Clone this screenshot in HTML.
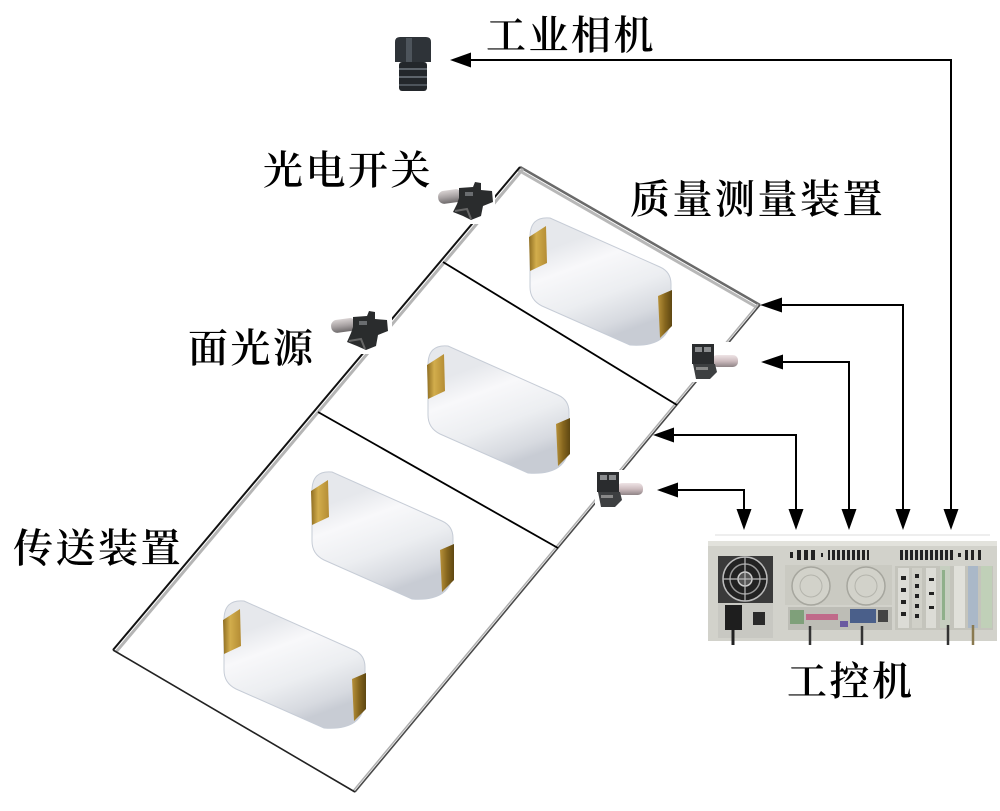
<!DOCTYPE html>
<html><head><meta charset="utf-8">
<style>
html,body{margin:0;padding:0;background:#fff;}
svg{display:block;}
text{font-family:"Liberation Serif","Noto Serif CJK SC",serif;font-size:40px;font-weight:600;fill:#000;letter-spacing:2.5px;}
</style></head><body>
<svg width="1000" height="811" viewBox="0 0 1000 811" xmlns="http://www.w3.org/2000/svg">
<defs>
  <linearGradient id="body" gradientUnits="userSpaceOnUse" x1="-18" y1="-45" x2="18" y2="52">
    <stop offset="0" stop-color="#e6e8ec"/>
    <stop offset="0.25" stop-color="#f8f8fa"/>
    <stop offset="0.6" stop-color="#eceef1"/>
    <stop offset="0.88" stop-color="#d7dae0"/>
    <stop offset="1" stop-color="#c8ccd4"/>
  </linearGradient>
  <linearGradient id="goldL" x1="0" y1="0" x2="1" y2="0">
    <stop offset="0" stop-color="#8f6e22"/>
    <stop offset="0.4" stop-color="#d2ad4c"/>
    <stop offset="1" stop-color="#b48c34"/>
  </linearGradient>
  <linearGradient id="goldR" x1="0" y1="0" x2="1" y2="0">
    <stop offset="0" stop-color="#b8923a"/>
    <stop offset="0.5" stop-color="#86661e"/>
    <stop offset="1" stop-color="#5e4712"/>
  </linearGradient>
  <linearGradient id="cylL" x1="0" y1="0" x2="0" y2="1">
    <stop offset="0" stop-color="#d8d2d2"/>
    <stop offset="0.5" stop-color="#a9a3a4"/>
    <stop offset="1" stop-color="#6e6a6b"/>
  </linearGradient>
  <linearGradient id="cylR" x1="0" y1="0" x2="0" y2="1">
    <stop offset="0" stop-color="#efe4e6"/>
    <stop offset="0.5" stop-color="#cdbcbf"/>
    <stop offset="1" stop-color="#8f8486"/>
  </linearGradient>
</defs>

<!-- conveyor -->
<polygon points="520,167 760,305 355,792 113,650" fill="#fff"/>
<line x1="518" y1="170" x2="758" y2="308" stroke="#b8b8b8" stroke-width="3"/>
<line x1="520" y1="167" x2="760" y2="305" stroke="#6a6a6a" stroke-width="2.5"/>
<line x1="523" y1="169" x2="116" y2="652" stroke="#b5b5b5" stroke-width="3"/>
<line x1="520" y1="167" x2="113" y2="650" stroke="#111" stroke-width="2"/>
<line x1="758" y1="304" x2="353" y2="791" stroke="#b0b0b0" stroke-width="1.5"/>
<line x1="760" y1="305" x2="355" y2="792" stroke="#4a4a4a" stroke-width="1.6"/>
<line x1="113" y1="650" x2="355" y2="792" stroke="#222" stroke-width="1.6"/>
<line x1="443" y1="262" x2="677" y2="405" stroke="#000" stroke-width="1.8"/>
<line x1="318" y1="412" x2="558" y2="548" stroke="#000" stroke-width="1.8"/>

<!-- spools -->
<g transform="translate(600,282)">
  <path d="M-70,-45 Q-70,-66 -50,-64 L60,-15 Q71,-10 71,2 L71,33 Q71,66 30,63 L-58,24 Q-70,18 -70,5 Z" fill="url(#body)" stroke="#c6ccd6" stroke-width="1"/>
  <polygon points="-71,-45 -54,-56 -53,-19 -70,-11" fill="url(#goldL)"/>
  <polygon points="58,14 72,8 72,44 60,56" fill="url(#goldR)"/>
</g>
<g transform="translate(498,410)">
  <path d="M-70,-45 Q-70,-66 -50,-64 L60,-15 Q71,-10 71,2 L71,33 Q71,66 30,63 L-58,24 Q-70,18 -70,5 Z" fill="url(#body)" stroke="#c6ccd6" stroke-width="1"/>
  <polygon points="-71,-45 -54,-56 -53,-19 -70,-11" fill="url(#goldL)"/>
  <polygon points="58,14 72,8 72,44 60,56" fill="url(#goldR)"/>
</g>
<g transform="translate(382,536)">
  <path d="M-70,-45 Q-70,-66 -50,-64 L60,-15 Q71,-10 71,2 L71,33 Q71,66 30,63 L-58,24 Q-70,18 -70,5 Z" fill="url(#body)" stroke="#c6ccd6" stroke-width="1"/>
  <polygon points="-71,-45 -54,-56 -53,-19 -70,-11" fill="url(#goldL)"/>
  <polygon points="58,14 72,8 72,44 60,56" fill="url(#goldR)"/>
</g>
<g transform="translate(294,665)">
  <path d="M-70,-45 Q-70,-66 -50,-64 L60,-15 Q71,-10 71,2 L71,33 Q71,66 30,63 L-58,24 Q-70,18 -70,5 Z" fill="url(#body)" stroke="#c6ccd6" stroke-width="1"/>
  <polygon points="-71,-45 -54,-56 -53,-19 -70,-11" fill="url(#goldL)"/>
  <polygon points="58,14 72,8 72,44 60,56" fill="url(#goldR)"/>
</g>

<!-- left-type sensors -->
<g transform="translate(437,182)">
  <rect x="0" y="0" width="58" height="42" fill="#fff"/>
  <rect x="1" y="8" width="24" height="13" rx="6" fill="url(#cylL)" transform="rotate(-8 13 14)"/>
  <path d="M22,6 L36,5 L38,0 L44,1 L44,8 L55,9 L56,20 L46,24 L44,34 L34,38 L26,34 L16,30 L20,22 L22,16 Z" fill="#2a2c2d"/>
  <rect x="28" y="10" width="8" height="4" fill="#6a6d70"/>
  <path d="M18,29 L30,27 L34,37" stroke="#666" stroke-width="2" fill="none"/>
</g>
<g transform="translate(330,310)">
  <rect x="0" y="0" width="62" height="44" fill="#fff"/>
  <rect x="1" y="9" width="25" height="13" rx="6" fill="url(#cylL)" transform="rotate(-8 13 15)"/>
  <path d="M23,7 L37,6 L39,1 L45,2 L45,9 L57,10 L58,21 L48,25 L46,36 L36,40 L27,36 L17,32 L21,23 L23,17 Z" fill="#2a2c2d"/>
  <rect x="29" y="11" width="8" height="4" fill="#6a6d70"/>
  <path d="M19,31 L31,29 L35,39" stroke="#666" stroke-width="2" fill="none"/>
</g>

<!-- right-type sensors -->
<g transform="translate(690,342)">
  <rect x="0" y="0" width="52" height="40" fill="#fff"/>
  <rect x="22" y="13" width="26" height="12" rx="5" fill="url(#cylR)"/>
  <rect x="2" y="2" width="22" height="20" fill="#2a2c2e"/>
  <rect x="5" y="5" width="7" height="5" fill="#8a8c8e"/>
  <rect x="14" y="5" width="7" height="5" fill="#8a8c8e"/>
  <path d="M3,22 L25,22 L27,30 L20,37 L6,37 Z" fill="#3d3f41"/>
  <rect x="6" y="25" width="12" height="3" fill="#888"/>
</g>
<g transform="translate(595,470)">
  <rect x="0" y="0" width="52" height="40" fill="#fff"/>
  <rect x="22" y="13" width="26" height="12" rx="5" fill="url(#cylR)"/>
  <rect x="2" y="2" width="22" height="20" fill="#2a2c2e"/>
  <rect x="5" y="5" width="7" height="5" fill="#8a8c8e"/>
  <rect x="14" y="5" width="7" height="5" fill="#8a8c8e"/>
  <path d="M3,22 L25,22 L27,30 L20,37 L6,37 Z" fill="#3d3f41"/>
  <rect x="6" y="25" width="12" height="3" fill="#888"/>
</g>

<!-- camera -->
<g>
  <path d="M395,42 Q395,37 400,37 L426,37 Q431,37 431,42 L431,62 L395,62 Z" fill="#2e3338"/>
  <rect x="406" y="38" width="6" height="24" fill="#4d545b"/>
  <rect x="399" y="62" width="28" height="29" rx="3" fill="#23272b"/>
  <rect x="399" y="68" width="28" height="2" fill="#5d646b"/>
  <rect x="399" y="76" width="28" height="2" fill="#5d646b"/>
  <rect x="399" y="84" width="28" height="2" fill="#4d545b"/>
</g>

<!-- connectors -->
<g stroke="#000" stroke-width="2" fill="none">
  <polyline points="468,60 951,60 951,512"/>
  <polyline points="780,305 903,305 903,512"/>
  <polyline points="780,362 849,362 849,512"/>
  <polyline points="671,435 796,435 796,512"/>
  <polyline points="675,490 744,490 744,512"/>
</g>
<g fill="#000">
  <polygon points="450,60 471,52.5 471,67.5"/>
  <polygon points="760,305 782,297.5 782,312.5"/>
  <polygon points="761,362 783,354.5 783,369.5"/>
  <polygon points="653,435 674,427.5 674,442.5"/>
  <polygon points="657,490 678,482.5 678,497.5"/>
  <polygon points="951,530 943.5,509 958.5,509"/>
  <polygon points="903,530 895.5,509 910.5,509"/>
  <polygon points="849,530 841.5,509 856.5,509"/>
  <polygon points="796,530 788.5,509 803.5,509"/>
  <polygon points="744,530 736.5,509 751.5,509"/>
</g>

<!-- industrial PC -->
<g>
  <line x1="715" y1="535" x2="990" y2="535" stroke="#eeeeee" stroke-width="2"/>
  <rect x="708" y="541" width="289" height="100" fill="#d2d2cb"/>
  <rect x="708" y="541" width="289" height="5" fill="#e2e2dc"/>
  <rect x="718" y="603" width="55" height="35" fill="#c8c8c2"/>
  <rect x="718" y="556" width="55" height="47" fill="#3a3a3a"/>
  <circle cx="745" cy="579" r="22" fill="#222" stroke="#bbb" stroke-width="1.5"/>
  <circle cx="745" cy="579" r="15" fill="none" stroke="#999" stroke-width="1.5"/>
  <circle cx="745" cy="579" r="7" fill="#555" stroke="#ccc" stroke-width="1.5"/>
  <line x1="723" y1="579" x2="767" y2="579" stroke="#bbb" stroke-width="1.2"/>
  <line x1="745" y1="557" x2="745" y2="601" stroke="#bbb" stroke-width="1.2"/>
  <rect x="725" y="605" width="17" height="25" fill="#1e1e1e"/>
  <line x1="733" y1="630" x2="733" y2="645" stroke="#222" stroke-width="3"/>
  <rect x="753" y="612" width="12" height="13" fill="#2a2a2a"/>
  <g fill="#222">
    <rect x="790" y="552" width="3" height="6"/>
    <rect x="797" y="550" width="4" height="10"/><rect x="804" y="550" width="4" height="10"/><rect x="811" y="550" width="4" height="10"/>
    <rect x="821" y="553" width="2" height="4"/>
    <rect x="828" y="550" width="2" height="10"/><rect x="832" y="550" width="3" height="10"/><rect x="837" y="550" width="3" height="10"/><rect x="842" y="550" width="3" height="10"/><rect x="847" y="550" width="3" height="10"/><rect x="852" y="550" width="3" height="10"/><rect x="857" y="550" width="3" height="10"/><rect x="862" y="550" width="3" height="10"/><rect x="867" y="550" width="2" height="10"/>
    <rect x="900" y="550" width="3" height="10"/><rect x="905" y="550" width="3" height="10"/><rect x="910" y="550" width="3" height="10"/><rect x="915" y="550" width="3" height="10"/><rect x="920" y="550" width="3" height="10"/><rect x="925" y="550" width="3" height="10"/><rect x="930" y="550" width="3" height="10"/><rect x="935" y="550" width="3" height="10"/><rect x="940" y="550" width="3" height="10"/><rect x="945" y="550" width="3" height="10"/><rect x="950" y="550" width="3" height="10"/>
    <rect x="958" y="553" width="3" height="4"/>
    <rect x="965" y="550" width="3" height="10"/><rect x="971" y="550" width="3" height="10"/><rect x="978" y="550" width="3" height="10"/>
  </g>
  <rect x="785" y="565" width="107" height="40" fill="#cacac2"/>
  <circle cx="811" cy="586" r="19" fill="#d2d2ca" stroke="#a6a69e" stroke-width="1.5"/>
  <circle cx="811" cy="586" r="11" fill="none" stroke="#b4b4ac" stroke-width="1"/>
  <circle cx="866" cy="586" r="19" fill="#d2d2ca" stroke="#a6a69e" stroke-width="1.5"/>
  <circle cx="866" cy="586" r="11" fill="none" stroke="#b4b4ac" stroke-width="1"/>
  <rect x="788" y="607" width="104" height="23" fill="#bdbdb6"/>
  <rect x="790" y="610" width="14" height="14" fill="#7fa07a"/>
  <rect x="806" y="614" width="32" height="6" fill="#c06a8a"/>
  <rect x="850" y="609" width="26" height="14" fill="#4a5f8a"/>
  <rect x="840" y="621" width="8" height="6" fill="#6b5aa0"/>
  <rect x="878" y="610" width="10" height="12" fill="#444"/>
  <line x1="810" y1="626" x2="810" y2="645" stroke="#333" stroke-width="2.5"/>
  <line x1="862" y1="626" x2="862" y2="645" stroke="#333" stroke-width="2.5"/>
  <rect x="895" y="566" width="98" height="64" fill="#c4c4bc"/>
  <rect x="898" y="568" width="11" height="60" fill="#dcdcd6"/>
  <rect x="912" y="568" width="10" height="60" fill="#d0d0c8"/>
  <rect x="926" y="568" width="10" height="60" fill="#dcdcd6"/>
  <g fill="#222">
    <rect x="901" y="576" width="5" height="4"/><rect x="901" y="588" width="5" height="4"/><rect x="901" y="600" width="5" height="4"/><rect x="901" y="612" width="5" height="4"/>
    <rect x="915" y="574" width="4" height="4"/><rect x="915" y="584" width="4" height="4"/><rect x="915" y="594" width="4" height="4"/><rect x="915" y="604" width="4" height="4"/><rect x="915" y="614" width="4" height="4"/>
    <rect x="929" y="578" width="5" height="3"/><rect x="929" y="592" width="5" height="3"/><rect x="929" y="606" width="5" height="3"/>
  </g>
  <rect x="940" y="566" width="10" height="62" fill="#c6cfc0"/>
  <rect x="942" y="570" width="3" height="50" fill="#8fb08a"/>
  <rect x="954" y="566" width="11" height="62" fill="#e0e0da"/>
  <rect x="968" y="566" width="10" height="62" fill="#aab8c8"/>
  <rect x="981" y="566" width="11" height="62" fill="#c0d0b8"/>
  <line x1="948" y1="625" x2="948" y2="645" stroke="#333" stroke-width="2.5"/>
  <line x1="973" y1="625" x2="973" y2="645" stroke="#8a7a50" stroke-width="2.5"/>
</g>

<!-- labels -->
<text x="486" y="49">工业相机</text>
<text x="263" y="184">光电开关</text>
<text x="630" y="213">质量测量装置</text>
<text x="188" y="362">面光源</text>
<text x="13" y="562">传送装置</text>
<text x="787" y="695">工控机</text>
</svg>
</body></html>
